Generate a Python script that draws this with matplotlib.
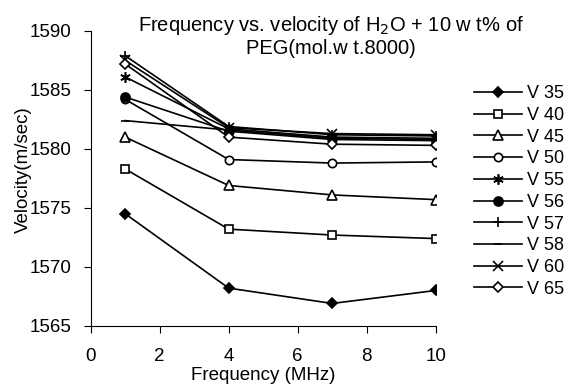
import matplotlib
matplotlib.use('Agg')
import matplotlib.pyplot as plt

plt.rcParams['font.family'] = ['Liberation Sans', 'DejaVu Sans']

freq = [1, 4, 7, 10]

v35 = [1574.5, 1568.2, 1566.9, 1568.0]
v40 = [1578.3, 1573.2, 1572.7, 1572.4]
v45 = [1581.0, 1576.9, 1576.1, 1575.7]
v50 = [1584.2, 1579.1, 1578.8, 1578.9]
v55 = [1586.1, 1581.7, 1581.0, 1580.9]
v56 = [1584.4, 1581.5, 1580.8, 1580.7]
v57 = [1587.9, 1581.9, 1581.2, 1581.1]
v58 = [1582.4, 1581.6, 1580.9, 1580.8]
v60 = [1587.5, 1581.8, 1581.3, 1581.2]
v65 = [1587.2, 1581.0, 1580.4, 1580.3]

labels = ['V 35', 'V 40', 'V 45', 'V 50', 'V 55', 'V 56', 'V 57', 'V 58', 'V 60', 'V 65']
series = [v35, v40, v45, v50, v55, v56, v57, v58, v60, v65]

# marker, face colour, size
styles = [('D', 'k', 5.5), ('s', 'w', 5.5), ('^', 'w', 6.5), ('o', 'w', 6),
          ((6, 2, 0), 'k', 7.5), ('o', 'k', 6.5), ('+', 'k', 7.5), ('_', 'k', 6),
          ('x', 'k', 6.5), ('D', 'w', 5.5)]

fig = plt.figure(figsize=(5.74, 3.87), dpi=100)
ax = fig.add_axes([0.158, 0.158, 0.601, 0.762])

for vals, lab, (m, fc, ms) in zip(series, labels, styles):
    ax.plot(freq, vals, color='k', lw=1.2, marker=m, markersize=ms,
            markerfacecolor=fc, markeredgecolor='k', markeredgewidth=1.2,
            label=lab)

ax.set_xlim(0, 10)
ax.set_ylim(1565, 1590)
ax.set_xticks([0, 2, 4, 6, 8, 10])
ax.set_yticks([1565, 1570, 1575, 1580, 1585, 1590])
ax.tick_params(direction='out', length=5, labelsize=13.5)
ax.tick_params(axis='y', pad=9)
ax.tick_params(axis='x', pad=11)
ax.spines['top'].set_visible(False)
ax.spines['right'].set_visible(False)

ax.set_xlabel('Frequency (MHz)', fontsize=13.5)
ax.set_ylabel('Velocity(m/sec)', fontsize=13.5)
ax.xaxis.set_label_coords(0.5, -0.14)
ax.yaxis.set_label_coords(-0.196, 0.53)
ax.yaxis.label.set_va('center')

fig.text(0.577, 0.965, 'Frequency vs. velocity of H$_2$O + 10 w t% of\nPEG(mol.w t.8000)',
         ha='center', va='top', fontsize=14.5, linespacing=1.15)

ax.legend(loc='upper left', bbox_to_anchor=(1.09, 0.84), frameon=False,
          fontsize=13, handlelength=2.65, handletextpad=0.3, labelspacing=0.26,
          borderaxespad=0)

fig.savefig('out.png', dpi=100)
